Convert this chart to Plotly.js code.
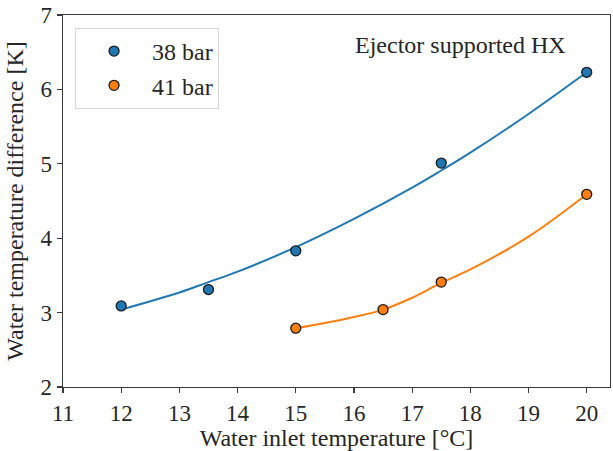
<!DOCTYPE html>
<html>
<head>
<meta charset="utf-8">
<script src="https://cdn.plot.ly/plotly-3.0.1.min.js"></script>
<style>html,body{margin:0;padding:0;background:#fff;}#chart{width:613px;height:451px;}</style>
</head>
<body>
<div id="chart"></div>
<script>
// Measured points
const x38 = [12, 13.5, 15, 17.5, 20];
const y38 = [3.09, 3.31, 3.83, 5.01, 6.23];
const x41 = [15, 16.5, 17.5, 20];
const y41 = [2.79, 3.04, 3.41, 4.59];
// Fit curves
const fitX38 = [12, 13, 13.5, 14, 15, 16, 17, 17.5, 18, 19, 20];
const fitY38 = [3.04, 3.27, 3.41, 3.55, 3.88, 4.26, 4.68, 4.91, 5.15, 5.67, 6.23];
const fitX41 = [15, 15.5, 16, 16.5, 17, 17.5, 18, 19, 20];
const fitY41 = [2.79, 2.86, 2.94, 3.04, 3.2, 3.40, 3.58, 4.02, 4.59];
const xTicks = [11, 12, 13, 14, 15, 16, 17, 18, 19, 20];
const yTicks = [2, 3, 4, 5, 6, 7];

const blue = '#1f77b4', orange = '#ff7f0e';
const font = '"Liberation Serif"';

const traces = [
  {x: fitX38, y: fitY38, mode: 'lines', line: {color: blue, width: 2, shape: 'spline'}, showlegend: false, hoverinfo: 'skip'},
  {x: fitX41, y: fitY41, mode: 'lines', line: {color: orange, width: 2, shape: 'spline'}, showlegend: false, hoverinfo: 'skip'},
  {x: x38, y: y38, mode: 'markers', name: '38 bar', marker: {color: blue, size: 10, line: {color: '#1a1a1a', width: 1.3}}},
  {x: x41, y: y41, mode: 'markers', name: '41 bar', marker: {color: orange, size: 10, line: {color: '#1a1a1a', width: 1.3}}}
];

const layout = {
  width: 613, height: 451,
  margin: {l: 63, r: 3, t: 15, b: 64},
  paper_bgcolor: '#fff', plot_bgcolor: '#fff',
  font: {family: font, color: '#262626', size: 22},
  showlegend: true,
  legend: {x: 0.022, y: 0.965, xanchor: 'left', yanchor: 'top', bgcolor: 'rgba(255,255,255,0.8)', bordercolor: '#d6d6d6', borderwidth: 1, font: {size: 24, family: font}, itemwidth: 66, tracegroupgap: 4},
  xaxis: {
    range: [11, 20.4], tickvals: xTicks, ticktext: xTicks.map(String),
    showgrid: false, zeroline: false, showline: true, mirror: true, linecolor: '#3a3a3a', linewidth: 1.3,
    ticks: 'outside', ticklen: 5, tickwidth: 1.2, tickcolor: '#3a3a3a',
    tickfont: {size: 23, family: font},
    title: {text: 'Water inlet temperature [°C]', font: {size: 24, family: font}, standoff: 8}
  },
  yaxis: {
    range: [2, 7], tickvals: yTicks, ticktext: yTicks.map(String),
    showgrid: false, zeroline: false, showline: true, mirror: true, linecolor: '#3a3a3a', linewidth: 1.3,
    ticks: 'outside', ticklen: 5, tickwidth: 1.2, tickcolor: '#3a3a3a',
    tickfont: {size: 23, family: font},
    title: {text: 'Water temperature difference [K]', font: {size: 24, family: font}, standoff: 10}
  },
  annotations: [{
    text: 'Ejector supported HX', xref: 'paper', yref: 'paper', x: 0.727, y: 0.92,
    xanchor: 'center', yanchor: 'middle', showarrow: false, font: {size: 24, family: font, color: '#262626'}
  }]
};

Plotly.newPlot('chart', traces, layout, {displayModeBar: false, staticPlot: true});
</script>
</body>
</html>
